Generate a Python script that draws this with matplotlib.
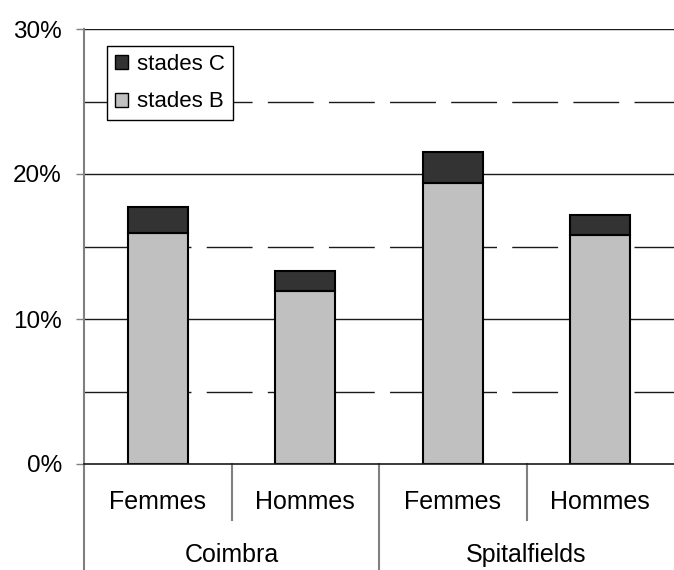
import matplotlib.pyplot as plt
from matplotlib.patches import Patch

plt.rcParams['font.family'] = ['Liberation Sans', 'DejaVu Sans']

# données
sites = ['Coimbra', 'Spitalfields']
sexes = ['Femmes', 'Hommes', 'Femmes', 'Hommes']
stades_b = [15.9, 11.9, 19.4, 15.8]
stades_c = [1.8, 1.4, 2.1, 1.4]
yticks = [0, 10, 20, 30]
ytick_labels = ['0%', '10%', '20%', '30%']

fig = plt.figure(figsize=(6.74, 5.7), dpi=100)
ax = fig.add_axes([84/674, 106/570, 590/674, 435/570])

x = range(len(sexes))

# grille : pleine aux 10 %, tirets aux 5 %
for y in [10, 20, 30]:
    ax.axhline(y, color='#1a1a1a', lw=1, zorder=0)
for y in [5, 15, 25]:
    ax.axhline(y, color='#1a1a1a', lw=1, ls=(0, (33, 11)), zorder=0)
ax.axhline(0, color='#1a1a1a', lw=1.2, zorder=3, clip_on=False)

ax.bar(x, stades_b, width=0.41, color='#c0c0c0', edgecolor='black', lw=1.5, zorder=2)
ax.bar(x, stades_c, bottom=stades_b, width=0.41, color='#333333', edgecolor='black', lw=1.5, zorder=2)

ax.set_xlim(-0.5, 3.5)
ax.set_ylim(0, 30)
ax.set_yticks(yticks)
ax.set_yticklabels(ytick_labels, fontsize=17.5)
ax.tick_params(axis='y', length=6, width=1, color='#808080', pad=10)
ax.set_xticks([])
for s in ['top', 'right', 'bottom', 'left']:
    ax.spines[s].set_visible(False)

# axe gauche prolongé et séparateurs de catégories
tr = ax.get_xaxis_transform()
ax.plot([-0.5, -0.5], [1, -106/435], color='#808080', lw=1.5, transform=tr, clip_on=False)
ax.plot([1.5, 1.5], [0, -106/435], color='#808080', lw=1.5, transform=tr, clip_on=False)
for xb in [0.5, 2.5]:
    ax.plot([xb, xb], [0, -56/435], color='#808080', lw=1.5, transform=tr, clip_on=False)

for i, s in enumerate(sexes):
    ax.text(i, -38/435, s, transform=tr, ha='center', va='center', fontsize=18)
for j, site in enumerate(sites):
    ax.text(2*j + 0.5, -91/435, site, transform=tr, ha='center', va='center', fontsize=18)

handles = [Patch(facecolor='#333333', edgecolor='black', label='stades C'),
           Patch(facecolor='#c0c0c0', edgecolor='black', label='stades B')]
leg = ax.legend(handles=handles, loc='upper left', bbox_to_anchor=(0.039, 0.961),
                fontsize=16, frameon=True, fancybox=False, framealpha=1,
                handlelength=0.6, handleheight=0.6, handletextpad=0.4,
                borderpad=0.35, labelspacing=0.75, borderaxespad=0)
leg.get_frame().set_edgecolor('black')
leg.get_frame().set_linewidth(1)
leg.set_zorder(5)

fig.savefig('out.png', dpi=100)
